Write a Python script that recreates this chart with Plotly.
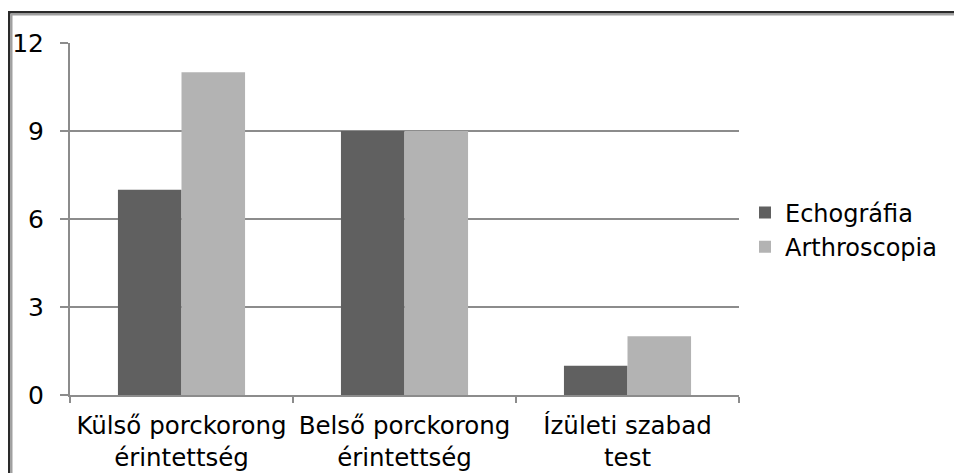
import plotly.graph_objects as go

categories = ["Külső porckorong<br>érintettség", "Belső porckorong<br>érintettség", "Ízületi szabad<br>test"]
echografia = [7, 9, 1]
arthroscopia = [11, 9, 2]
y_ticks = [0, 3, 6, 9, 12]

FONT = "DejaVu Sans"
W, H = 954, 473
L, R, T, B = 70, 215, 43, 78

fig = go.Figure()
fig.add_bar(name="Echográfia", x=categories, y=echografia, marker=dict(color="#606060", line=dict(width=0)))
fig.add_bar(name="Arthroscopia", x=categories, y=arthroscopia, marker=dict(color="#b3b3b3", line=dict(width=0)))

pw = W - L - R
ph = H - T - B
def px2x(px):
    return (px - L) / pw
def py2y(py):
    return (H - B - py) / ph

shapes = [
    dict(type="line", xref="paper", yref="paper", x0=px2x(9.2), x1=px2x(9.2), y0=py2y(480), y1=py2y(11), line=dict(color="#2a2a2a", width=2.4)),
    dict(type="line", xref="paper", yref="paper", x0=px2x(8), x1=px2x(960), y0=py2y(12.3), y1=py2y(12.3), line=dict(color="#2a2a2a", width=2.4)),
    dict(type="line", xref="paper", yref="paper", x0=px2x(11.5), x1=px2x(11.5), y0=py2y(480), y1=py2y(13.5), line=dict(color="#a0a0a0", width=2)),
    dict(type="line", xref="paper", yref="paper", x0=px2x(11.5), x1=px2x(960), y0=py2y(14.5), y1=py2y(14.5), line=dict(color="#a0a0a0", width=2)),
]

fig.update_layout(
    width=W, height=H,
    margin=dict(l=L, r=R, t=T, b=B, pad=0, autoexpand=False),
    paper_bgcolor="white", plot_bgcolor="white",
    font=dict(family=FONT, size=24, color="black"),
    barmode="group", bargap=0.43, bargroupgap=0,
    showlegend=True,
    legend=dict(x=px2x(745), xanchor="left", y=py2y(230), yanchor="middle",
                font=dict(family=FONT, size=24), bgcolor="rgba(0,0,0,0)", traceorder="normal"),
    shapes=shapes,
)
fig.update_xaxes(
    range=[-0.5, 2.5], showline=True, linecolor="#8c8c8c", linewidth=2,
    ticks="outside", tickson="boundaries", ticklen=6, tickcolor="#8c8c8c", tickwidth=2,
    showgrid=False, tickfont=dict(family=FONT, size=24.5), ticklabelstandoff=8,
    tickangle=0, automargin=False,
)
fig.update_yaxes(
    range=[0, 12], tickvals=y_ticks, showline=True, linecolor="#8c8c8c", linewidth=2,
    ticks="outside", ticklen=8, tickcolor="#8c8c8c", tickwidth=2,
    showgrid=True, gridcolor="#8c8c8c", gridwidth=2, zeroline=False,
    tickfont=dict(family=FONT, size=25), ticklabelstandoff=11, automargin=False,
)
fig.write_html("out.html")
